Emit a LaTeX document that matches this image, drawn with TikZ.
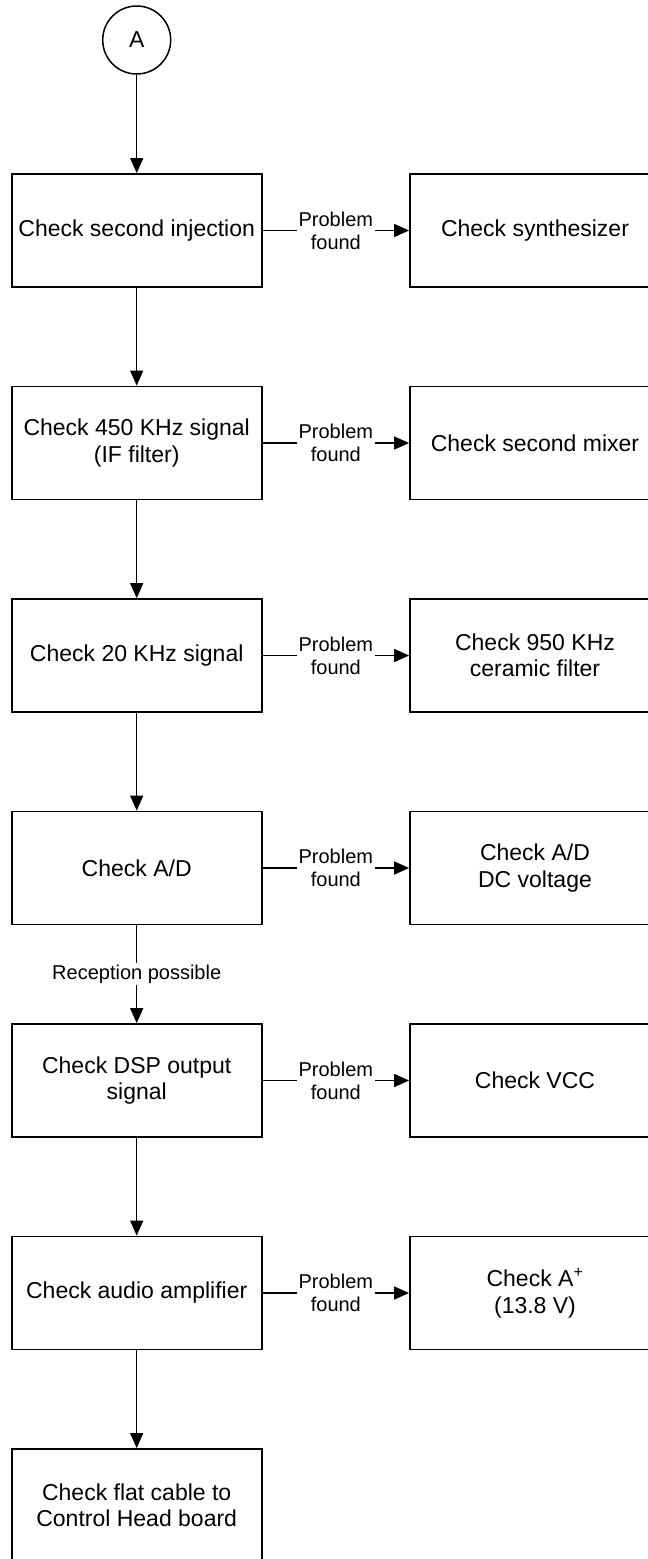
\documentclass[tikz,border=0pt]{standalone}
\usepackage{fontspec}
\setmainfont{Liberation Sans}
\usetikzlibrary{arrows.meta}

\begin{document}
\begin{tikzpicture}[x=1pt,y=-1pt,
    box/.style={draw, line width=1.8pt, minimum width=250pt, minimum height=113pt,
      inner sep=2pt, align=center, font=\fontsize{23}{26.5}\selectfont},
    flow/.style={line width=1.5pt, -{Triangle[length=15pt,width=13pt]}},
    cond/.style={fill=white, inner sep=1.5pt, align=center, font=\fontsize{20}{23}\selectfont}]
  \clip (0,0) rectangle (648,1559);

  % Drawing connector circle A
  \node [draw, circle, line width=1.5pt, minimum size=68pt, inner sep=0pt,
    font=\fontsize{23}{26.5}\selectfont] (a) at (136.7,40) {A};

  % Drawing check boxes on the left
  \node [box] (inj) at (136.7,230.5) {Check second injection};
  \node [box] (if) at (136.7,443) {Check 450 KHz signal\\(IF filter)};
  \node [box] (khz) at (136.7,655.5) {Check 20 KHz signal};
  \node [box] (ad) at (136.7,868) {Check A/D};
  \node [box] (dsp) at (136.7,1080.5) {Check DSP output\\signal};
  \node [box] (amp) at (136.7,1293) {Check audio amplifier};
  \node [box] (cable) at (136.7,1505.5) {Check flat cable to\\Control Head board};

  % Drawing remedy boxes on the right
  \node [box] (synth) at (535,230.5) {Check synthesizer};
  \node [box] (mixer) at (535,443) {Check second mixer};
  \node [box] (ceramic) at (535,655.5) {Check 950 KHz\\ceramic filter};
  \node [box] (dcv) at (535,868) {Check A/D\\DC voltage};
  \node [box] (vcc) at (535,1080.5) {Check VCC};
  \node [box] (aplus) at (535,1293) {Check A\textsuperscript{+}\\(13.8 V)};

  % Drawing main flow
  \draw [flow] (a) -- (inj);
  \draw [flow] (inj) -- (if);
  \draw [flow] (if) -- (khz);
  \draw [flow] (khz) -- (ad);
  \draw [flow] (ad) -- node [cond] {Reception possible} (dsp);
  \draw [flow] (dsp) -- (amp);
  \draw [flow] (amp) -- (cable);

  % Drawing problem branches
  \draw [flow] (inj) -- node [cond] {Problem\\found} (synth);
  \draw [flow] (if) -- node [cond] {Problem\\found} (mixer);
  \draw [flow] (khz) -- node [cond] {Problem\\found} (ceramic);
  \draw [flow] (ad) -- node [cond] {Problem\\found} (dcv);
  \draw [flow] (dsp) -- node [cond] {Problem\\found} (vcc);
  \draw [flow] (amp) -- node [cond] {Problem\\found} (aplus);
\end{tikzpicture}
\end{document}
